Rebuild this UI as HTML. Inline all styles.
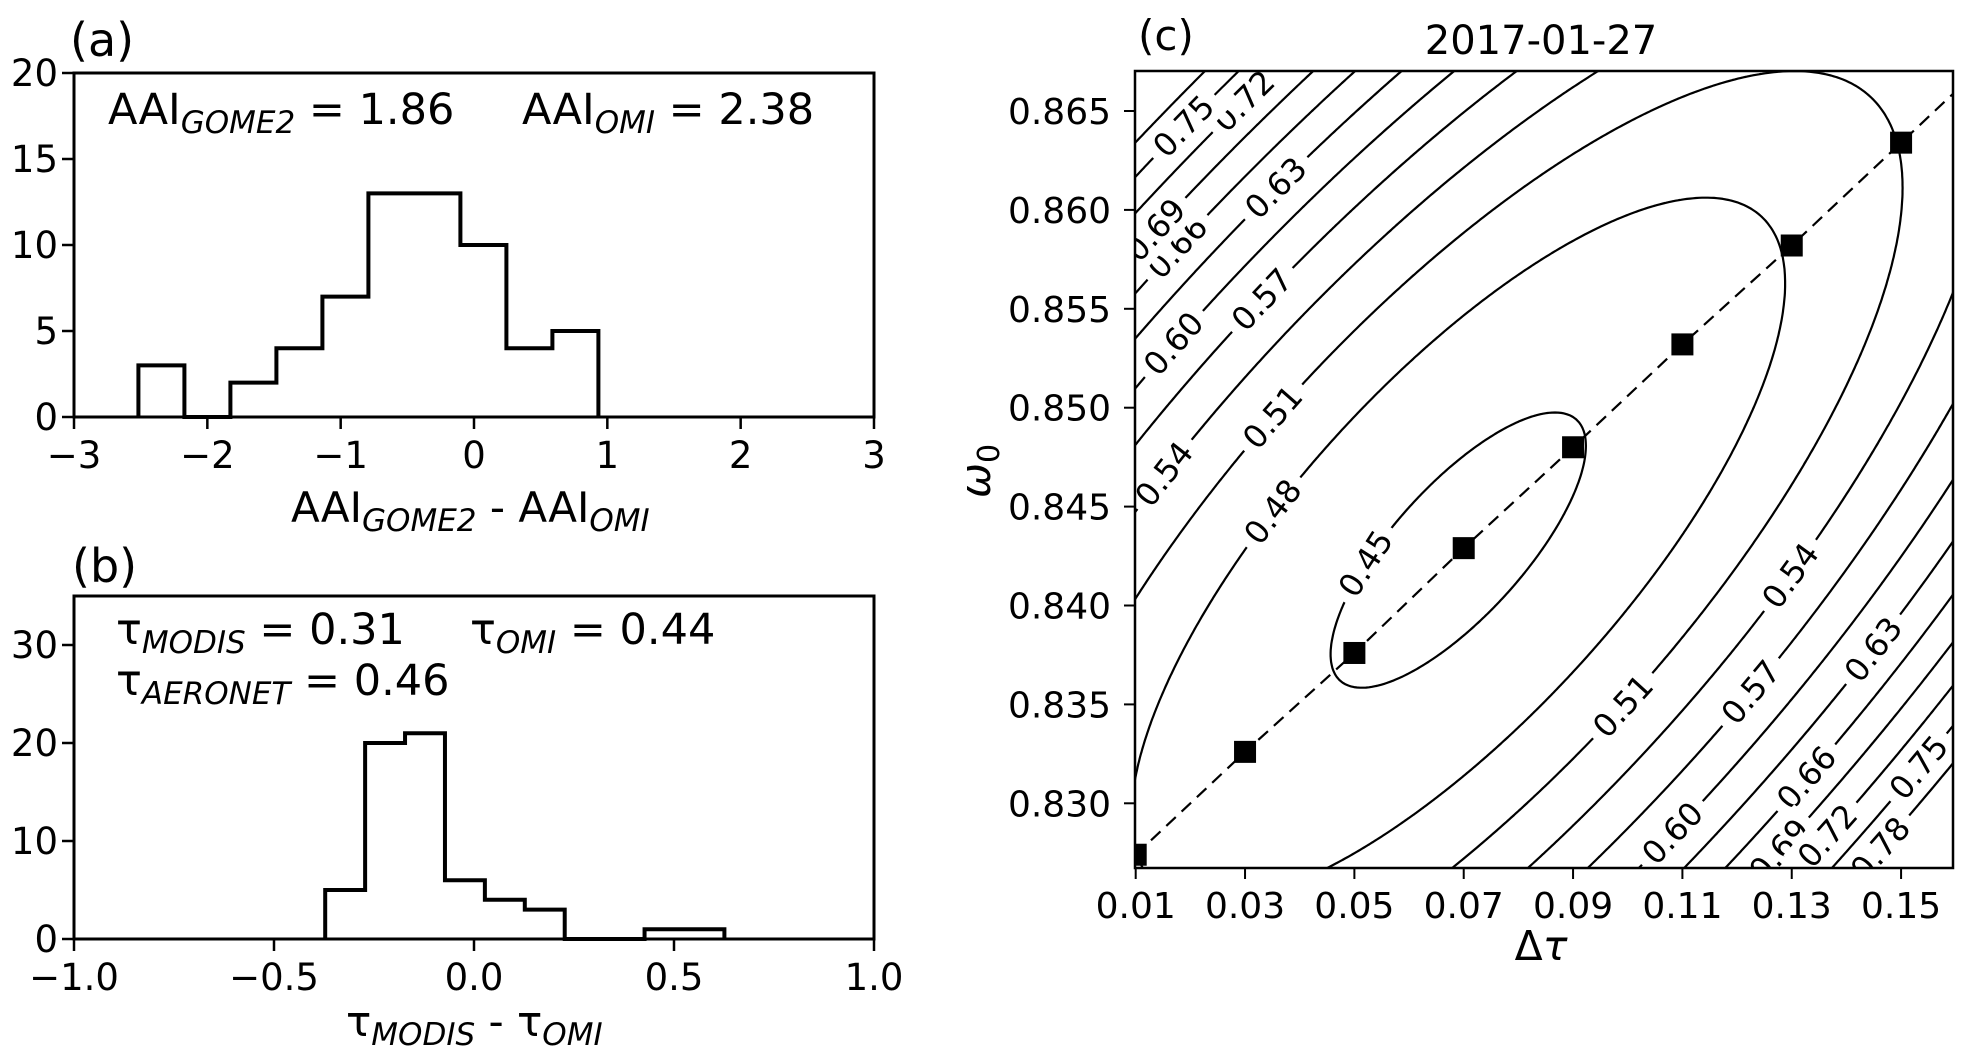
<!DOCTYPE html>
<html><head><meta charset="utf-8"><style>
html,body{margin:0;padding:0;background:#fff;}
svg{display:block;font-family:"DejaVu Sans","Liberation Sans",sans-serif;}
</style></head>
<body>
<svg id="fig" width="1962" height="1056" viewBox="0 0 1962 1056" xmlns="http://www.w3.org/2000/svg">
<defs>
<clipPath id="clipc"><rect x="1135" y="71" width="818" height="797"/></clipPath>
</defs>
<rect width="1962" height="1056" fill="#fff"/>
<g id="pa"></g>
<g id="pb"></g>
<g id="pc"></g>
</svg>
<script>
// ---- Panel (a) data ----
const aEdgeStart = -2.517;
const aBinWidth = 0.345;
const aCounts = [3,0,2,4,7,13,13,10,4,5];
const aXTicks = [-3,-2,-1,0,1,2,3];
const aXTickLabels = ["\u22123","\u22122","\u22121","0","1","2","3"];
const aYTicks = [0,5,10,15,20];
const aYTickLabels = ["0","5","10","15","20"];
// ---- Panel (b) data ----
const bEdgeStart = -0.372;
const bBinWidth = 0.0998;
const bCounts = [5,20,21,6,4,3,0,0,1,1];
const bXTicks = [-1,-0.5,0,0.5,1];
const bXTickLabels = ["\u22121.0","\u22120.5","0.0","0.5","1.0"];
const bYTicks = [0,10,20,30];
const bYTickLabels = ["0","10","20","30"];
// ---- Panel (c) data ----
const cDeltaTau = [0.01,0.03,0.05,0.07,0.09,0.11,0.13,0.15];
const cOmega = [0.8274,0.8326,0.8376,0.8429,0.8480,0.8532,0.8582,0.8634];
const cXTicks = [0.01,0.03,0.05,0.07,0.09,0.11,0.13,0.15];
const cXTickLabels = ["0.01","0.03","0.05","0.07","0.09","0.11","0.13","0.15"];
const cYTicks = [0.830,0.835,0.840,0.845,0.850,0.855,0.860,0.865];
const cYTickLabels = ["0.830","0.835","0.840","0.845","0.850","0.855","0.860","0.865"];
const cLevels = [0.45,0.48,0.51,0.54,0.57,0.60,0.63,0.66,0.69,0.72,0.75,0.78];
const cLevelLabels = ["0.45","0.48","0.51","0.54","0.57","0.60","0.63","0.66","0.69","0.72","0.75","0.78"];
const cFieldMin = 0.4446;
const cFieldMinAt = [0.069, 0.8428];

const NS="http://www.w3.org/2000/svg";
function mk(parent, tag, attrs, text){
  const e=document.createElementNS(NS,tag);
  for(const k in attrs) e.setAttribute(k,attrs[k]);
  if(text!==undefined) e.textContent=text;
  parent.appendChild(e); return e;
}

function histPanel(g, sx, sy, x0, x1, y0, y1, edgeStart, bw, counts, xt, xtl, yt, ytl, name){
  let d="M"+sx(edgeStart)+","+sy(0);
  counts.forEach((c,i)=>{
    const l=edgeStart+i*bw, r=l+bw;
    d+=" L"+sx(l)+","+sy(c)+" L"+sx(r)+","+sy(c);
  });
  d+=" L"+sx(edgeStart+counts.length*bw)+","+sy(0);
  const p=mk(g,"path",{d:d,fill:"none",stroke:"#000","stroke-width":4,"stroke-linejoin":"miter"});
  
  
  const fr=mk(g,"rect",{x:x0,y:y0,width:x1-x0,height:y1-y0,fill:"none",stroke:"#000","stroke-width":3});
  
  
  xt.forEach((v,i)=>{
    const x=sx(v);
    mk(g,"line",{x1:x,x2:x,y1:y1,y2:y1+12,stroke:"#000","stroke-width":2.5});
    const t=mk(g,"text",{x:x,y:y1+51,"font-size":37,"text-anchor":"middle"},xtl[i]);
    
    
  });
  yt.forEach((v,i)=>{
    const y=sy(v);
    mk(g,"line",{x1:x0-12,x2:x0,y1:y,y2:y,stroke:"#000","stroke-width":2.5});
    const t=mk(g,"text",{x:x0-16,y:y+13,"font-size":37,"text-anchor":"end"},ytl[i]);
    
    
  });
}

// Panel a
(function(){
  const g=document.getElementById("pa");
  const sx=v=>474+v*133.33, sy=v=>417-v*17.2;
  histPanel(g,sx,sy,74,874,73,417,aEdgeStart,aBinWidth,aCounts,aXTicks,aXTickLabels,aYTicks,aYTickLabels,"panel-a");
  g.insertAdjacentHTML("beforeend",
   '<text x="70" y="56" font-size="46">(a)</text>'+
   '<text x="108" y="124" font-size="43">AAI<tspan font-style="italic" font-size="31" dy="9">GOME2</tspan><tspan dy="-9"> = 1.86</tspan></text>'+
   '<text x="522" y="124" font-size="43">AAI<tspan font-style="italic" font-size="31" dy="9">OMI</tspan><tspan dy="-9"> = 2.38</tspan></text>'+
   '<text x="291" y="522" font-size="42">AAI<tspan font-style="italic" font-size="31" dy="9">GOME2</tspan><tspan dy="-9"> - AAI</tspan><tspan font-style="italic" font-size="31" dy="9">OMI</tspan></text>');
})();

// Panel b
(function(){
  const g=document.getElementById("pb");
  const sx=v=>474+v*400, sy=v=>939-v*9.8;
  histPanel(g,sx,sy,74,874,596,939,bEdgeStart,bBinWidth,bCounts,bXTicks,bXTickLabels,bYTicks,bYTickLabels,"panel-b");
  g.insertAdjacentHTML("beforeend",
   '<text x="72" y="582" font-size="46">(b)</text>'+
   '<text x="116" y="644" font-size="43">\u03C4<tspan font-style="italic" font-size="31" dy="9">MODIS</tspan><tspan dy="-9"> = 0.31</tspan></text>'+
   '<text x="470" y="644" font-size="43">\u03C4<tspan font-style="italic" font-size="31" dy="9">OMI</tspan><tspan dy="-9"> = 0.44</tspan></text>'+
   '<text x="116" y="695" font-size="43">\u03C4<tspan font-style="italic" font-size="31" dy="9">AERONET</tspan><tspan dy="-9"> = 0.46</tspan></text>'+
   '<text x="346" y="1036" font-size="42">\u03C4<tspan font-style="italic" font-size="31" dy="9">MODIS</tspan><tspan dy="-9"> - \u03C4</tspan><tspan font-style="italic" font-size="31" dy="9">OMI</tspan></text>');
})();

// Panel c
(function(){
  const g=document.getElementById("pc");
  const X0=1135,X1=1953,Y0=71,Y1=868;
  const sx=v=>1135.7+(v-0.01)*5467, sy=v=>111+(0.865-v)*19780;
  const C=[sx(cFieldMinAt[0]), sy(cFieldMinAt[1])];
  let u=[0.67,-0.74];
  const nu=Math.hypot(u[0],u[1]); u=[u[0]/nu,u[1]/nu];
  let w=[-u[1], u[0]];
  if(w[0]<0) w=[-w[0],-w[1]];
  const ratio=2.7, kq=1.27e-6;
  function st(px,py){const dx=px-C[0],dy=py-C[1];return [dx*u[0]+dy*u[1], dx*w[0]+dy*w[1]];}
  function F(px,py){const a=st(px,py);const r2=(a[0]/ratio)**2+a[1]**2;return cFieldMin+kq*r2;}
  const cg=mk(g,"g",{"clip-path":"url(#clipc)"});
  const step=3;
  const nx=Math.ceil((X1-X0)/step)+1, ny=Math.ceil((Y1-Y0)/step)+1;
  const vals=[];
  for(let j=0;j<ny;j++){const row=[];for(let i=0;i<nx;i++)row.push(F(X0+i*step,Y0+j*step));vals.push(row);}
  cLevels.forEach((L,li)=>{
    let d="";
    for(let j=0;j<ny-1;j++)for(let i=0;i<nx-1;i++){
      const x=X0+i*step,y=Y0+j*step;
      const a=vals[j][i],b=vals[j][i+1],c=vals[j+1][i+1],e=vals[j+1][i];
      const pts=[];
      function ip(v1,v2,p1,p2){const t=(L-v1)/(v2-v1);return [p1[0]+t*(p2[0]-p1[0]),p1[1]+t*(p2[1]-p1[1])];}
      if((a<L)!==(b<L))pts.push(ip(a,b,[x,y],[x+step,y]));
      if((b<L)!==(c<L))pts.push(ip(b,c,[x+step,y],[x+step,y+step]));
      if((c<L)!==(e<L))pts.push(ip(c,e,[x+step,y+step],[x,y+step]));
      if((e<L)!==(a<L))pts.push(ip(e,a,[x,y+step],[x,y]));
      for(let k=0;k+1<pts.length;k+=2)d+="M"+pts[k][0].toFixed(1)+","+pts[k][1].toFixed(1)+"L"+pts[k+1][0].toFixed(1)+","+pts[k+1][1].toFixed(1);
    }
    const p=mk(cg,"path",{d:d,fill:"none",stroke:"#000","stroke-width":2.2,"stroke-linecap":"round"});
    
    
  });
  const labelSpots=[[0,-1,-72],[1,-1,-96],[2,-1,-26],[3,-1,-141],[4,-1,54],[5,-1,-38],[6,-1,146],[7,-1,36],[8,-1,34],[9,-1,189],[10,-1,130],
    [2,1,-5],[3,1,204],[4,1,91],[5,1,-66],[6,1,205],[7,1,65],[8,1,-7],[9,1,36],[10,1,148],[11,1,62]];
  labelSpots.forEach(sp=>{
    const L=cLevels[sp[0]];
    const r2=(L-cFieldMin)/kq, s=sp[2];
    const t2=r2-(s/ratio)**2; if(t2<=0) return;
    const t=sp[1]*Math.sqrt(t2);
    const px=C[0]+s*u[0]+t*w[0], py=C[1]+s*u[1]+t*w[1];
    const gs=s/(ratio*ratio), gt=t;
    let ts=-gt, tt=gs;
    let dx=ts*u[0]+tt*w[0], dy=ts*u[1]+tt*w[1];
    if(dx<0){dx=-dx;dy=-dy;}
    const ang=Math.atan2(dy,dx)*180/Math.PI;
    const lg=mk(cg,"g",{transform:"translate("+px.toFixed(1)+","+py.toFixed(1)+") rotate("+ang.toFixed(1)+")"});
    mk(lg,"rect",{x:-44,y:-20,width:88,height:40,fill:"#fff"});
    const tx=mk(lg,"text",{x:0,y:11,"font-size":32,"text-anchor":"middle"},cLevelLabels[sp[0]]);
    
    
  });
  const n=cDeltaTau.length;
  const slope=(cOmega[n-1]-cOmega[n-2])/(cDeltaTau[n-1]-cDeltaTau[n-2]);
  const xEnd=0.1596, yEnd=cOmega[n-1]+slope*(xEnd-cDeltaTau[n-1]);
  let dd="M"+sx(cDeltaTau[0])+","+sy(cOmega[0]);
  for(let i=1;i<n;i++)dd+=" L"+sx(cDeltaTau[i])+","+sy(cOmega[i]);
  dd+=" L"+sx(xEnd)+","+sy(yEnd);
  const dl=mk(cg,"path",{d:dd,fill:"none",stroke:"#000","stroke-width":2.2,"stroke-dasharray":"13,8"});
  
  
  cDeltaTau.forEach((v,i)=>{
    const r=mk(cg,"rect",{x:sx(v)-11,y:sy(cOmega[i])-11,width:22,height:22,fill:"#000"});
    
    
  });
  const fr=mk(g,"rect",{x:X0,y:Y0,width:X1-X0,height:Y1-Y0,fill:"none",stroke:"#000","stroke-width":2.5});
  
  
  cXTicks.forEach((v,i)=>{
    const x=sx(v);
    mk(g,"line",{x1:x,x2:x,y1:Y1,y2:Y1+11,stroke:"#000","stroke-width":2});
    const t=mk(g,"text",{x:x,y:Y1+50,"font-size":36,"text-anchor":"middle"},cXTickLabels[i]);
    
    
  });
  cYTicks.forEach((v,i)=>{
    const y=sy(v);
    mk(g,"line",{x1:X0-11,x2:X0,y1:y,y2:y,stroke:"#000","stroke-width":2});
    const t=mk(g,"text",{x:X0-24,y:y+13,"font-size":36,"text-anchor":"end"},cYTickLabels[i]);
    
    
  });
  g.insertAdjacentHTML("beforeend",
   '<text x="1138" y="50" font-size="42">(c)</text>'+
   '<text x="1541" y="54" font-size="40" text-anchor="middle">2017-01-27</text>'+
   '<text x="1541" y="960" font-size="41" text-anchor="middle">\u0394<tspan font-style="italic">\u03C4</tspan></text>'+
   '<text transform="translate(990,471) rotate(-90)" font-size="42" text-anchor="middle"><tspan font-style="italic">\u03C9</tspan><tspan font-size="30" dy="9">0</tspan></text>');
})();
</script>
</body></html>
